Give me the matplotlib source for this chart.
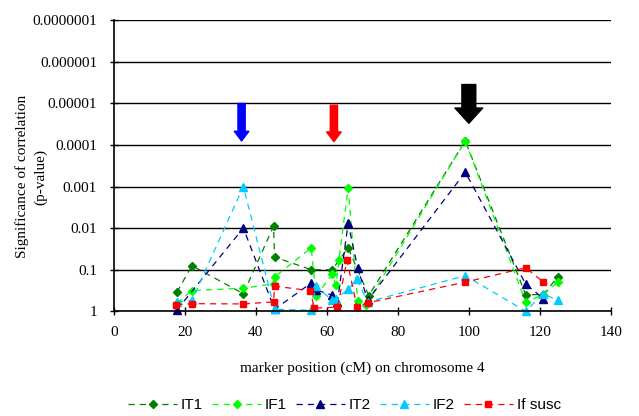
import matplotlib
matplotlib.use("Agg")
import matplotlib.pyplot as plt
import numpy as np

# marker positions (cM) and p-values
it1_x = [17.8, 22, 36.5, 45, 45.3, 55.6, 61.5, 66, 71.8, 99, 116, 121, 125]
it1_p = [0.35, 0.08, 0.38, 0.009, 0.05, 0.1, 0.1, 0.03, 0.42, 8e-5, 0.4, 0.4, 0.15]

if1_x = [17.8, 22, 36.5, 45, 45.3, 55.6, 57, 61.5, 62.6, 63.4, 66, 68.7, 71, 99, 116, 121, 125]
if1_p = [0.65, 0.32, 0.28, 0.22, 0.15, 0.03, 0.43, 0.13, 0.23, 0.06, 0.0011, 0.57, 0.7, 8e-5, 0.6, 0.4, 0.2]

it2_x = [17.8, 36.5, 45.3, 55.6, 57, 61.5, 63, 66, 68.7, 71.5, 99, 116, 121]
it2_p = [0.93, 0.01, 0.9, 0.21, 0.31, 0.41, 0.6, 0.0077, 0.09, 0.55, 4.5e-4, 0.22, 0.5]

if2_x = [17.8, 22, 36.5, 45.3, 55.6, 57, 61.5, 62.6, 66, 68.5, 71.5, 99, 116, 121, 125]
if2_p = [0.6, 0.55, 0.001, 0.9, 0.95, 0.25, 0.55, 0.5, 0.3, 0.17, 0.6, 0.14, 1.0, 0.38, 0.55]

sus_x = [17.6, 22, 36.5, 45, 45.3, 55.3, 56.5, 63, 65.7, 68.5, 71.5, 99, 116, 121]
sus_p = [0.7, 0.66, 0.67, 0.6, 0.25, 0.32, 0.85, 0.8, 0.06, 0.8, 0.63, 0.2, 0.09, 0.2]

yticks = [1, 0.1, 0.01, 0.001, 0.0001, 0.00001, 0.000001, 0.0000001]
ytick_labels = ["1", "0.1", "0.01", "0.001", "0.0001", "0.00001", "0.000001", "0.0000001"]
xticks = [0, 20, 40, 60, 80, 100, 120, 140]

# arrows: x, top p, tip p, colour, shaft width, head width, head length (pt)
arrows = [(36, 1e-5, 8e-5, "#0000ff", 5.2, 10.5, 7),
          (62, 1.1e-5, 8.3e-5, "#ff0000", 5.2, 10.5, 7),
          (100, 3.5e-6, 3e-5, "#000000", 10, 20, 11)]

serif = "Liberation Serif"
sans = "Liberation Sans"

fig = plt.figure(figsize=(6.39, 4.16), dpi=100)
ax = fig.add_axes([0.178, 0.252, 0.778, 0.699])

dash = (0, (5, 4))
series = [
    (it1_x, it1_p, "#007f00", "D", 3.8, "IT1"),
    (if1_x, if1_p, "#00ff00", "D", 3.8, "IF1"),
    (it2_x, it2_p, "#000080", "^", 5.3, "IT2"),
    (if2_x, if2_p, "#00ccff", "^", 5.3, "IF2"),
    (sus_x, sus_p, "#ff0000", "s", 4.3, "If susc"),
]
for xs, ps, col, mk, ms, lab in series:
    ax.plot(xs, ps, color=col, linestyle=dash, linewidth=0.9, marker=mk,
            markersize=ms, markeredgecolor=col, label=lab, clip_on=False)

ax.set_yscale("log")
ax.set_ylim(1, 1e-7)
ax.set_xlim(0, 140)
ax.set_yticks(yticks)
ax.set_yticklabels(ytick_labels, fontfamily=serif, fontsize=11)
ax.yaxis.set_minor_locator(matplotlib.ticker.NullLocator())
ax.set_xticks(xticks)
ax.set_xticklabels([str(t) for t in xticks], fontfamily=serif, fontsize=11)
ax.tick_params(direction="inout", length=6, width=1, color="black")
ax.tick_params(axis="x", pad=8)
ax.tick_params(axis="y", pad=9)

ax.grid(axis="y", color="black", linewidth=1)
ax.set_axisbelow(True)
for s in ["top", "right"]:
    ax.spines[s].set_visible(False)
for s in ["left", "bottom"]:
    ax.spines[s].set_linewidth(1.2)

for x, top, tip, col, w, hw, hl in arrows:
    ax.annotate("", xy=(x, tip), xytext=(x, top),
                arrowprops=dict(width=w, headwidth=hw, headlength=hl,
                                facecolor=col, edgecolor=col, shrink=0))

ax.set_xlabel("marker position (cM) on chromosome 4", fontfamily=serif, fontsize=11, labelpad=16)
fig.text(0.049, 0.575, "Significance of correlation\n(p-value)", rotation=90,
         fontfamily=serif, fontsize=11, ha="center", va="center",
         multialignment="center", linespacing=1.5)

fig.legend(loc="center", bbox_to_anchor=(0.539, 0.026), ncol=5, frameon=False,
           prop={"family": sans, "size": 11}, handlelength=3.2, handletextpad=0.25,
           columnspacing=0.6)

fig.savefig("out.png", dpi=100)
